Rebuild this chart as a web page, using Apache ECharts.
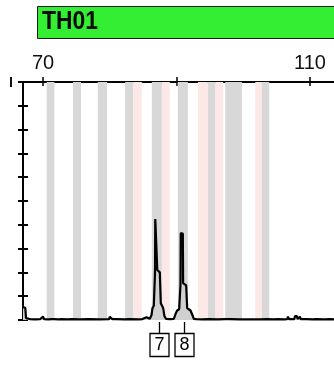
<!DOCTYPE html>
<html><head><meta charset="utf-8">
<script src="https://cdn.jsdelivr.net/npm/echarts@6/dist/echarts.min.js"></script>
<style>html,body{margin:0;padding:0;background:#fff}#c{width:334px;height:367px}</style>
</head><body><div id="c"></div>
<script>
var markerName = 'TH01';
var xTickValues = [70, 90, 110];
var xLabelValues = [70, 110];
var grayBins = [[70.55,71.7],[74.5,75.7],[78.2,79.6],[82.3,83.5],[86.3,87.8],[90.2,91.7],[94.7,95.8],[97.3,99.8],[102.8,103.9]];
var pinkBins = [[83.5,84.8],[87.8,89.0],[93.2,94.7],[95.8,97.0],[101.8,102.8]];
var alleleLabels = ['7', '8'];
var alleleSizes = [87.45, 91.1];
var traceX = [67.0,67.35,67.45,68.0,68.8,69.6,69.85,70.0,70.15,70.8,71.35,71.5,71.65,72.3,72.75,72.85,72.95,73.7,74.25,74.35,74.45,75.5,76.8,76.9,77.0,78.5,79.9,80.0,80.2,80.4,81.0,81.1,81.2,82.2,82.95,83.05,83.15,84.3,84.9,85.0,85.5,85.6,
  86.0,86.25,86.4,86.6,86.78,86.82,87.08,87.12,87.5,87.65,88.0,88.2,88.45,89.0,
  89.6,89.85,90.1,90.4,90.6,90.64,90.95,90.99,91.45,91.6,92.1,92.4,92.6,
  92.75,92.85,92.95,93.8,94.9,95.0,95.1,96.3,97.2,97.3,97.4,98.0,98.1,98.2,99.5,101.0,102.5,103.5,103.6,103.7,104.6,105.1,105.2,105.3,106.1,106.6,106.7,106.85,107.2,107.3,107.4,107.65,107.75,108.05,108.15,108.4,108.5,108.6,109.0,109.1,109.2,109.45,109.55,109.65,110.4,110.95,111.05,111.15,112.2,113.0,113.6];
var traceY = [55,50,8,4,3,4,4,14,4,3,4,12,4,3,4,12,4,3,4,11,4,3,4,11,4,3,4,13,10,4,4,12,4,3,4,9,4,3,4,12,12,4,
  5,20,50,60,200,424,420,210,200,70,50,15,5,4,
  5,25,40,45,150,366,362,155,145,50,40,20,5,
  4,10,4,3,4,9,4,3,4,10,4,4,9,4,3,3,3,4,10,4,3,4,11,4,3,4,14,4,4,12,4,4,16,16,4,4,14,4,4,10,4,4,11,4,3,4,10,4,3,4,3];

var trace = traceX.map(function (x, i) { return [x, traceY[i]]; });
var chart = echarts.init(document.getElementById('c'));
var FONT = 'Liberation Sans';
var GRID = { left: 23, top: 82, right: 0, bottom: 47 };
var gridW = 334 - GRID.left - GRID.right, gridH = 367 - GRID.top - GRID.bottom;
var xBase = { type: 'value', min: 67, max: 113.6, splitLine: { show: false } };
var yBase = { type: 'value', min: 0, max: 1000, interval: 100, splitLine: { show: false }, axisLabel: { show: false } };
chart.setOption({
  animation: false,
  grid: Object.assign({ containLabel: false }, GRID),
  xAxis: [
    Object.assign({}, xBase, {
      position: 'top',
      axisLine: { show: true, onZero: false, lineStyle: { color: '#000', width: 2 } },
      axisTick: { show: true, inside: false, length: 5, customValues: xTickValues, lineStyle: { color: '#000', width: 1.5 } },
      axisLabel: { show: true, customValues: xLabelValues, margin: 9, color: '#111', fontSize: 20, fontFamily: FONT }
    }),
    Object.assign({}, xBase, {
      position: 'bottom', offset: -gridH,
      axisLine: { show: false, onZero: false },
      axisTick: { show: true, inside: false, length: 4, customValues: xTickValues, lineStyle: { color: '#000', width: 1.5 } },
      axisLabel: { show: false }
    })
  ],
  yAxis: [
    Object.assign({}, yBase, {
      position: 'left',
      axisLine: { show: true, onZero: false, lineStyle: { color: '#000', width: 2 } },
      axisTick: { show: true, inside: false, length: 5, lineStyle: { color: '#000', width: 2 } }
    }),
    Object.assign({}, yBase, {
      position: 'right', offset: -gridW,
      axisLine: { show: false, onZero: false },
      axisTick: { show: true, inside: false, length: 5, lineStyle: { color: '#000', width: 2 } }
    })
  ],
  series: [
    {
      type: 'line', data: [], z: 1, silent: true,
      markArea: {
        silent: true,
        data: pinkBins.map(function (b) { return [{ xAxis: b[0], itemStyle: { color: '#fde8e8' } }, { xAxis: b[1] }]; })
          .concat(grayBins.map(function (b) { return [{ xAxis: b[0], itemStyle: { color: '#d8d8d8' } }, { xAxis: b[1] }]; }))
      }
    },
    {
      type: 'line', data: trace, z: 3, showSymbol: false, symbol: 'none',
      lineStyle: { color: '#000', width: 2.2 },
      areaStyle: { color: '#d0d0d0', opacity: 1 }
    },
    {
      type: 'custom', z: 4,
      data: alleleSizes.map(function (s, i) { return [s, 0, alleleLabels[i]]; }),
      renderItem: function (params, api) {
        var p = api.coord([api.value(0), 0]);
        var x = Math.round(p[0]) + 0.5, y = p[1];
        return {
          type: 'group',
          children: [
            { type: 'line', shape: { x1: x, y1: y + 2, x2: x, y2: y + 13 }, style: { stroke: '#000', lineWidth: 1.3 } },
            { type: 'rect', shape: { x: x - 9.5, y: y + 13.5, width: 19, height: 23 }, style: { fill: '#fff', stroke: '#000', lineWidth: 1.3 } },
            { type: 'text', style: { x: x, y: y + 25.5, text: String(api.value(2)), fill: '#000', font: '18px ' + FONT, align: 'center', verticalAlign: 'middle' } }
          ]
        };
      },
      encode: { x: 0, y: 1 }
    }
  ],
  graphic: [
    { type: 'rect', shape: { x: 37.5, y: 6.5, width: 400, height: 32 }, style: { fill: '#33ee33', stroke: '#1a1a1a', lineWidth: 1 } },
    { type: 'text', x: 42, y: 22, scaleX: 0.88, style: { x: 0, y: 0, text: markerName, fill: '#0a0a0a', font: 'bold 26px ' + FONT, verticalAlign: 'middle' } },
    { type: 'rect', shape: { x: 10, y: 77, width: 2, height: 10 }, style: { fill: '#111' } }
  ]
});
</script></body></html>
